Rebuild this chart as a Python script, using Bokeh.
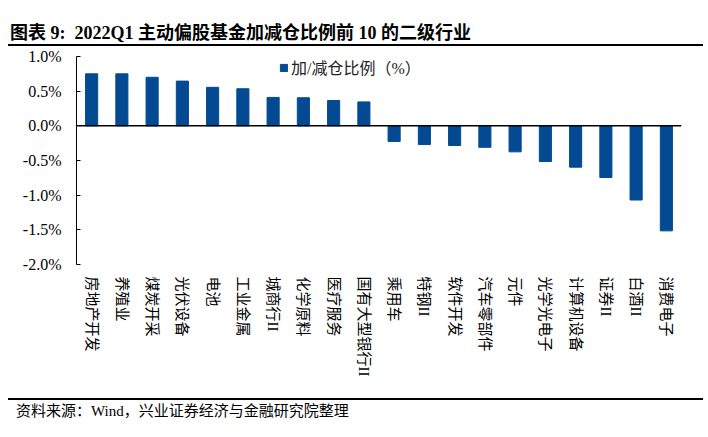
from bokeh.plotting import figure
from bokeh.models import (Div, Legend, LegendItem, Span, FixedTicker,
                          PrintfTickFormatter, FactorRange, ColumnDataSource)
from bokeh.layouts import column
from bokeh.embed import file_html
from bokeh.resources import INLINE

title_text = "图表 9:  2022Q1 主动偏股基金加减仓比例前 10 的二级行业"
source_text = "资料来源：Wind，兴业证券经济与金融研究院整理"
series_name = "加/减仓比例（%）"

categories = ["房地产开发", "养殖业", "煤炭开采", "光伏设备", "电池", "工业金属",
              "城商行II", "化学原料", "医疗服务", "国有大型银行II", "乘用车", "特钢II",
              "软件开发", "汽车零部件", "元件", "光学光电子", "计算机设备", "证券II",
              "白酒II", "消费电子"]
values = [0.75, 0.75, 0.70, 0.645, 0.555, 0.535, 0.41, 0.405, 0.365, 0.345,
          -0.225, -0.27, -0.283, -0.31, -0.375, -0.515, -0.596, -0.745, -1.07, -1.515]
y_ticks = [-2.0, -1.5, -1.0, -0.5, 0.0, 0.5, 1.0]

FONT = "'Liberation Serif', 'Noto Sans CJK SC'"
BAR = "#034a93"

title_div = Div(
    text=(f'<div style="width:695px;height:38px;border-bottom:2px solid #000;'
          f'box-sizing:border-box;padding:16px 0 0 2px;font-family:{FONT};'
          f'font-weight:bold;font-size:18px;line-height:19px;color:#000;'
          f'white-space:pre;">{title_text}</div>'),
    width=695, height=38, margin=0)

src = ColumnDataSource(data=dict(cat=categories, val=values))

p = figure(x_range=FactorRange(*categories, range_padding=0), y_range=(-2.0, 1.0),
           width=692, height=352, output_backend="svg", toolbar_location=None,
           min_border_left=68, min_border_right=19, min_border_top=10,
           min_border_bottom=134, margin=0)
p.outline_line_color = None
p.xgrid.grid_line_color = None
p.ygrid.grid_line_color = None
p.background_fill_color = "white"
p.border_fill_color = "white"

r = p.vbar(x="cat", top="val", bottom=0, width=0.4, source=src,
           fill_color=BAR, line_color=BAR)

p.add_layout(Span(location=0, dimension="width", line_color="black", line_width=1.5))

p.yaxis.ticker = FixedTicker(ticks=y_ticks)
p.yaxis.formatter = PrintfTickFormatter(format="%.1f%%")
p.yaxis.axis_line_color = "black"
p.yaxis.axis_line_width = 1
p.yaxis.major_tick_in = 4
p.yaxis.major_tick_out = 0
p.yaxis.minor_tick_line_color = None
p.yaxis.major_tick_line_color = "black"
p.yaxis.major_label_standoff = 15
p.yaxis.major_label_text_font = FONT
p.yaxis.major_label_text_font_size = "16px"
p.yaxis.major_label_text_color = "#000"

p.xaxis.axis_line_color = None
p.xaxis.major_tick_line_color = None
p.xaxis.minor_tick_line_color = None
p.xaxis.major_label_orientation = "vertical"
p.xaxis.major_label_standoff = 6
p.xaxis.major_label_text_font = FONT
p.xaxis.major_label_text_font_size = "15px"
p.xaxis.major_label_text_color = "#000"

legend = Legend(items=[LegendItem(label=series_name, renderers=[r])],
                location=(203, 185), orientation="horizontal",
                padding=0, margin=0, border_line_color=None,
                background_fill_alpha=0, glyph_width=9, glyph_height=9,
                label_height=16, label_standoff=3,
                label_text_font=FONT, label_text_font_size="16px",
                label_text_color="#222")
p.add_layout(legend)

source_div = Div(
    text=(f'<div style="width:695px;height:24px;border-top:2px solid #000;'
          f'box-sizing:border-box;padding:3px 0 0 8px;font-family:{FONT};'
          f'font-size:15px;line-height:16px;color:#000;white-space:pre;">{source_text}</div>'),
    width=695, height=24, margin=0)

layout = column(title_div, p, source_div, spacing=0, margin=(8, 0, 0, 8))

open("out.html", "w").write(file_html(layout, INLINE))
